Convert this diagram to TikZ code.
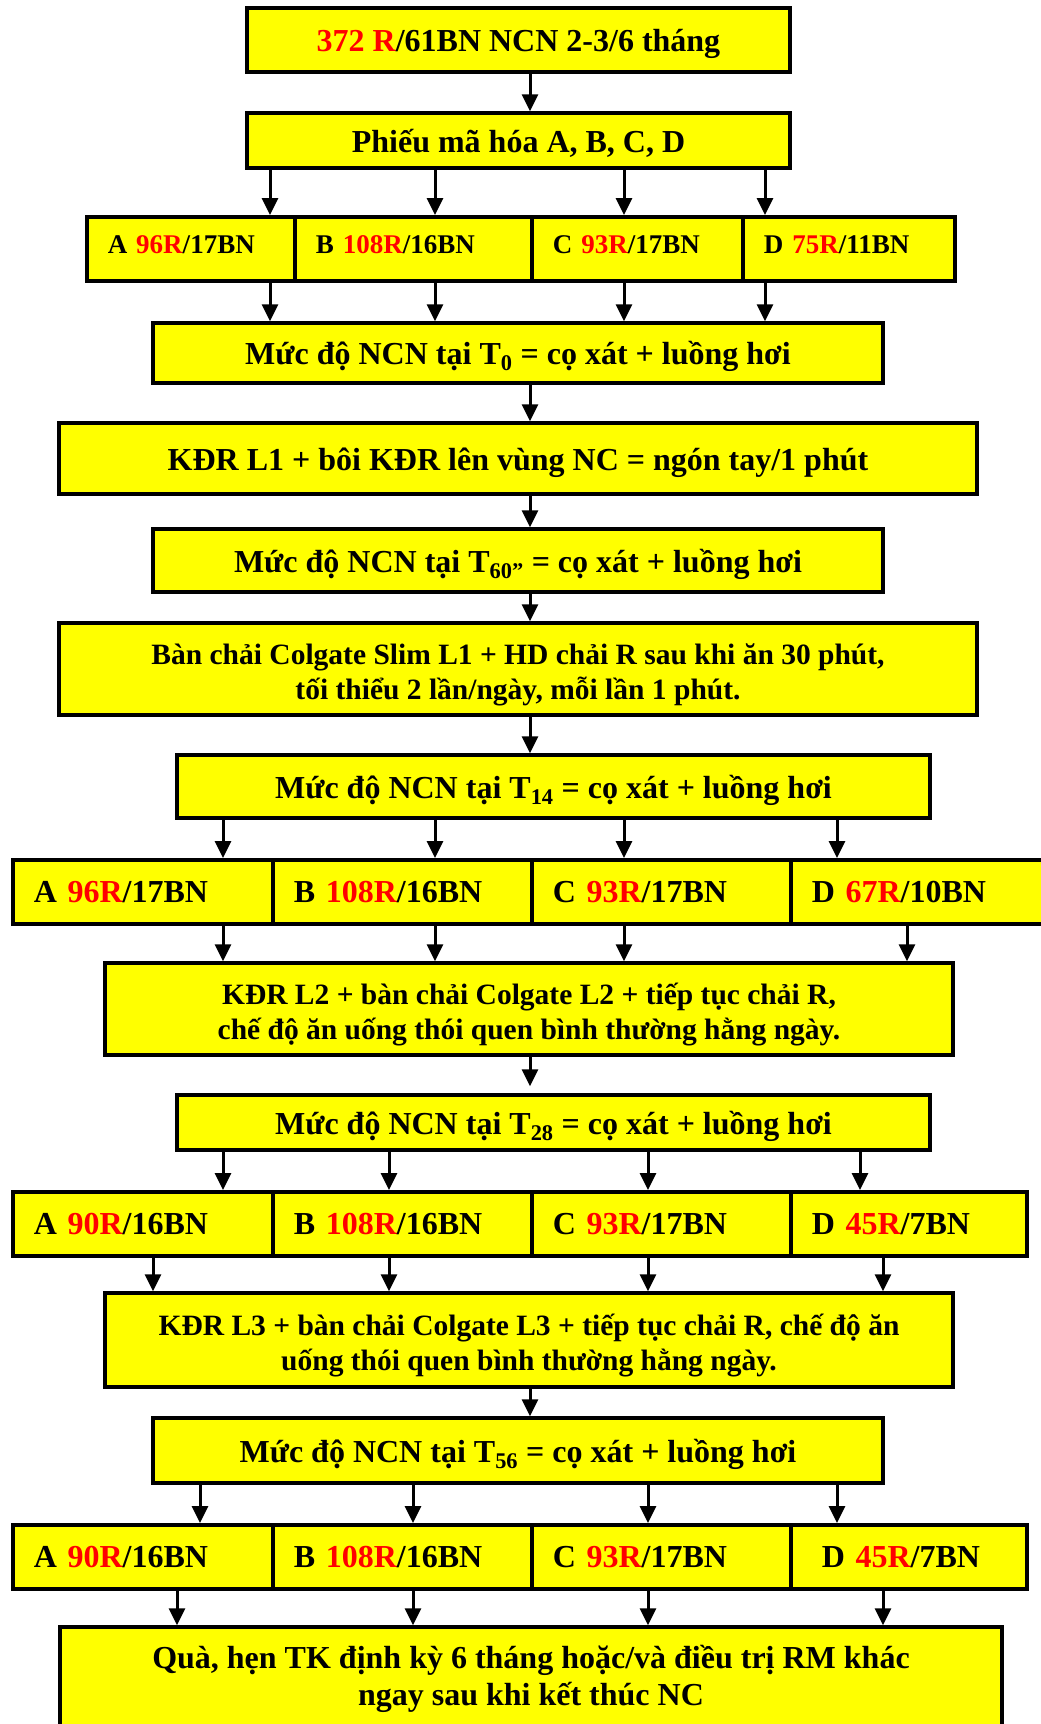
\documentclass[tikz,border=0pt]{standalone}
\usepackage{fontspec}
\setmainfont{Liberation Serif}
\usepackage{xcolor}
\usepackage{tikz}
\usetikzlibrary{arrows.meta}
\definecolor{boxfill}{HTML}{FFFF00}
\definecolor{num}{HTML}{FF0000}
\newcommand{\nr}[1]{\textcolor{num}{#1}}

\begin{document}
\begin{tikzpicture}[x=1pt, y=-1pt,
  box/.style={draw, fill=boxfill, line width=3.5pt, inner sep=0pt, align=center,
    text height=29pt, text depth=6pt, font=\fontsize{32}{37}\selectfont\bfseries},
  twoline/.style={box, text height=66pt, text depth=5.5pt, font=\fontsize{29.5}{35}\selectfont\bfseries},
  cell/.style={draw, fill=boxfill, line width=3.5pt, inner xsep=21pt, inner ysep=0pt,
    anchor=north west, align=left, minimum height=64pt, text height=22pt, text depth=1pt,
    font=\fontsize{32}{37}\selectfont\bfseries},
  smallcell/.style={cell, text height=18pt, text depth=8pt, font=\fontsize{27}{32}\selectfont\bfseries},
  arr/.style={line width=3pt, -{Triangle[length=17pt,width=16pt]}}]
  \useasboundingbox (0,0) rectangle (1041,1724);
  \coordinate (spine) at (530,0);

  % start
  \node[box, minimum width=543pt, minimum height=64pt] (start) at (518.5,40) {\nr{372 R}/61BN NCN 2-3/6 tháng};
  \node[box, minimum width=543pt, minimum height=55pt] (code) at (518.5,140.5) {Phiếu mã hóa A, B, C, D};
  \draw[arr] (start.south -| spine) -- (code.north -| spine);

  % groups at start
  \node[smallcell, text width=166pt] (g0a) at (85,215) {A \nr{96R}/17BN};
  \node[smallcell, text width=195pt] (g0b) at (293,215) {B \nr{108R}/16BN};
  \node[smallcell, text width=169pt] (g0c) at (530,215) {C \nr{93R}/17BN};
  \node[smallcell, text width=170pt] (g0d) at (741,215) {D \nr{75R}/11BN};
  \node[box, minimum width=730pt, minimum height=60pt] (t0) at (518,353) {Mức độ NCN tại T\textsubscript{0} = cọ xát + luồng hơi};
  \foreach \x in {270,435,624,765} {
    \draw[arr] (code.south -| \x,0) -- (g0a.north -| \x,0);
    \draw[arr] (g0a.south -| \x,0) -- (t0.north -| \x,0);
  }

  % step 1
  \node[box, minimum width=918pt, minimum height=71pt] (kdr1) at (518,458.5) {KĐR L1 + bôi KĐR lên vùng NC = ngón tay/1 phút};
  \node[box, minimum width=730pt, minimum height=63pt] (t60) at (518,560.5) {Mức độ NCN tại T\textsubscript{60”} = cọ xát + luồng hơi};
  \node[twoline, minimum width=918pt, minimum height=92pt] (brush1) at (518,669)
    {Bàn chải Colgate Slim L1 + HD chải R sau khi ăn 30 phút,\\ tối thiểu 2 lần/ngày, mỗi lần 1 phút.};
  \node[box, minimum width=753pt, minimum height=63pt] (t14) at (553.5,786.5) {Mức độ NCN tại T\textsubscript{14} = cọ xát + luồng hơi};
  \draw[arr] (t0.south -| spine) -- (kdr1.north -| spine);
  \draw[arr] (kdr1.south -| spine) -- (t60.north -| spine);
  \draw[arr] (t60.south -| spine) -- (brush1.north -| spine);
  \draw[arr] (brush1.south -| spine) -- (t14.north -| spine);

  % groups at T14
  \node[cell, text width=218pt] (g14a) at (11,858) {A \nr{96R}/17BN};
  \node[cell, text width=217pt] (g14b) at (271,858) {B \nr{108R}/16BN};
  \node[cell, text width=217pt] (g14c) at (530,858) {C \nr{93R}/17BN};
  \node[cell, text width=229pt] (g14d) at (789,858) {D \nr{67R}/10BN};
  \node[twoline, minimum width=848pt, minimum height=92pt] (kdr2) at (529,1009)
    {KĐR L2 + bàn chải Colgate L2 + tiếp tục chải R,\\ chế độ ăn uống thói quen bình thường hằng ngày.};
  \foreach \x in {223,435,624,837} \draw[arr] (t14.south -| \x,0) -- (g14a.north -| \x,0);
  \foreach \x in {223,435,624,907} \draw[arr] (g14a.south -| \x,0) -- (kdr2.north -| \x,0);

  % T28
  \node[box, minimum width=753pt, minimum height=55pt] (t28) at (553.5,1122.5) {Mức độ NCN tại T\textsubscript{28} = cọ xát + luồng hơi};
  \draw[arr, shorten >=7pt] (kdr2.south -| spine) -- (t28.north -| spine);
  \node[cell, text width=218pt] (g28a) at (11,1190) {A \nr{90R}/16BN};
  \node[cell, text width=217pt] (g28b) at (271,1190) {B \nr{108R}/16BN};
  \node[cell, text width=217pt] (g28c) at (530,1190) {C \nr{93R}/17BN};
  \node[cell, text width=194pt] (g28d) at (789,1190) {D \nr{45R}/7BN};
  \node[twoline, minimum width=848pt, minimum height=94pt] (kdr3) at (529,1340)
    {KĐR L3 + bàn chải Colgate L3 + tiếp tục chải R, chế độ ăn\\ uống thói quen bình thường hằng ngày.};
  \foreach \x in {223,389,648,860} \draw[arr] (t28.south -| \x,0) -- (g28a.north -| \x,0);
  \foreach \x in {153,389,648,883} \draw[arr] (g28a.south -| \x,0) -- (kdr3.north -| \x,0);

  % T56
  \node[box, minimum width=730pt, minimum height=65pt] (t56) at (518,1450.5) {Mức độ NCN tại T\textsubscript{56} = cọ xát + luồng hơi};
  \draw[arr] (kdr3.south -| spine) -- (t56.north -| spine);
  \node[cell, text width=218pt] (g56a) at (11,1523) {A \nr{90R}/16BN};
  \node[cell, text width=217pt] (g56b) at (271,1523) {B \nr{108R}/16BN};
  \node[cell, text width=217pt] (g56c) at (530,1523) {C \nr{93R}/17BN};
  \node[cell, text width=174pt, inner xsep=31pt] (g56d) at (789,1523) {D \nr{45R}/7BN};
  \node[box, minimum width=942pt, minimum height=99pt, text height=64pt, text depth=5.8pt,
    font=\fontsize{32}{37}\selectfont\bfseries] (gift) at (531,1676.5)
    {Quà, hẹn TK định kỳ 6 tháng hoặc/và điều trị RM khác\\ ngay sau khi kết thúc NC};
  \foreach \x in {200,413,648,837} \draw[arr] (t56.south -| \x,0) -- (g56a.north -| \x,0);
  \foreach \x in {177,413,648,883} \draw[arr] (g56a.south -| \x,0) -- (gift.north -| \x,0);
\end{tikzpicture}
\end{document}
